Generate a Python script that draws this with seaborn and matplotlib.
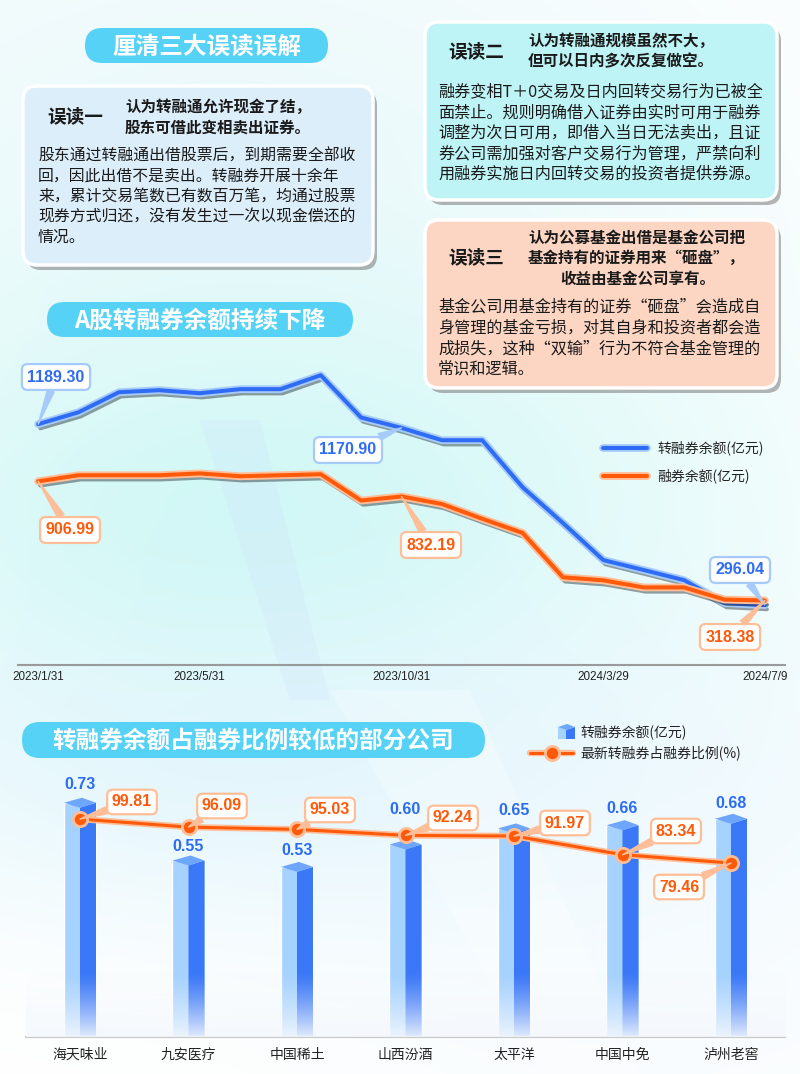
import numpy as np
import matplotlib
matplotlib.use('Agg')
import matplotlib.pyplot as plt
import matplotlib.patheffects as pe
from matplotlib.patches import FancyBboxPatch, Polygon
from matplotlib.lines import Line2D
import seaborn as sns

# ---- 数据 ----
dates = ['2023/1/31', '2023/2/28', '2023/3/31', '2023/4/28', '2023/5/31', '2023/6/30',
         '2023/7/31', '2023/8/31', '2023/9/28', '2023/10/31', '2023/11/30', '2023/12/29',
         '2024/1/31', '2024/2/29', '2024/3/29', '2024/4/30', '2024/5/31', '2024/6/28', '2024/7/9']
zhuan_rongquan = [1189.30, 1248, 1347, 1357, 1342, 1362, 1362, 1431, 1222, 1170.90,
                  1110, 1110, 878, 701, 518, 469, 419, 306, 296.04]
rongquan = [906.99, 937, 937, 937, 946, 932, 937, 942, 812, 832.19,
            795, 722, 652, 433, 418, 383, 383, 323, 318.38]
tick_idx = [0, 4, 9, 14, 18]

companies = ['海天味业', '九安医疗', '中国稀土', '山西汾酒', '太平洋', '中国中免', '泸州老窖']
amounts = [0.73, 0.55, 0.53, 0.60, 0.65, 0.66, 0.68]
ratios = [99.81, 96.09, 95.03, 92.24, 91.97, 83.34, 79.46]

W, H = 800, 1074
BLUE, BLUE_HALO = '#2f6cf5', '#a6cbfa'
ORANGE, ORANGE_HALO = '#ff5a0a', '#ffbe98'
PILL = '#56d2f6'
NUM = ['Liberation Sans', 'DejaVu Sans']

sns.set_theme(style='white')
plt.rcParams['font.family'] = ['Noto Sans CJK SC', 'DejaVu Sans']
plt.rcParams['axes.unicode_minus'] = False


def rect_px(l, t, r, b):
    return [l / W, 1 - b / H, (r - l) / W, (b - t) / H]


def fp(x, y):
    # 从左上角像素坐标转为 figure pixels
    return (x, H - y)


fig = plt.figure(figsize=(8, 10.74), dpi=100)

# ---- 背景 ----
ov = fig.add_axes([0, 0, 1, 1])
ov.set_xlim(0, W)
ov.set_ylim(H, 0)
ov.axis('off')
yy, xx = np.mgrid[0:H, 0:W]
bg = np.ones((H, W, 3))


def tint(color, cx, cy, sx, sy, s):
    w = s * np.exp(-(((xx - cx) / sx) ** 2 + ((yy - cy) / sy) ** 2) / 2)
    for k in range(3):
        bg[..., k] = bg[..., k] * (1 - w) + color[k] * w


tint((0.90, 0.97, 0.98), 220, 150, 380, 220, 0.7)
tint((0.80, 0.97, 0.96), 260, 520, 330, 170, 0.9)
tint((0.86, 0.95, 0.99), 300, 770, 330, 110, 0.6)
tint((0.93, 0.97, 1.0), 650, 900, 250, 200, 0.4)
ov.imshow(bg, extent=(0, W, H, 0), aspect='auto', zorder=0)
ov.add_patch(Polygon([(330, 690), (470, 690), (640, 1074), (540, 1074)], closed=True,
                     fc='white', ec='none', alpha=0.25, zorder=1))
ov.add_patch(Polygon([(200, 420), (260, 420), (330, 700), (290, 700)], closed=True,
                     fc='#cfe3fb', ec='none', alpha=0.25, zorder=1))


def pill(x, y, w, h, text, size=17):
    ov.add_patch(FancyBboxPatch((x, y), w, h, boxstyle=f'round,pad=0,rounding_size={h / 2}',
                                fc=PILL, ec='none', zorder=3))
    ov.text(x + w / 2, y + h / 2 + 1, text, ha='center', va='center', color='white',
            fontsize=size, fontweight='bold', zorder=4)


def card(x, y, w, h, fc):
    ov.add_patch(FancyBboxPatch((x + 4, y + 5), w, h, boxstyle='round,pad=0,rounding_size=14',
                                fc='#7a7a7a', ec='none', alpha=0.55, zorder=2))
    ov.add_patch(FancyBboxPatch((x, y), w, h, boxstyle='round,pad=0,rounding_size=14',
                                fc=fc, ec='white', lw=2.5, zorder=3))


def lines(x, ys, texts, size, bold=False):
    for y, t in zip(ys, texts):
        ov.text(x, y, t, ha='left', va='center', fontsize=size, color='#1a1a1a',
                fontweight='bold' if bold else 'normal', zorder=4)


pill(85, 28, 243, 35, '厘清三大误读误解')

card(23, 86, 350, 179, '#dceefa')
lines(47, [117], ['误读一'], 13.4, True)
lines(125, [107, 128], ['认为转融通允许现金了结，', '股东可借此变相卖出证券。'], 11.2, True)
lines(38, [156, 176, 197, 217, 237],
      ['股东通过转融通出借股票后，到期需要全部收',
       '回，因此出借不是卖出。转融券开展十余年',
       '来，累计交易笔数已有数百万笔，均通过股票',
       '现券方式归还，没有发生过一次以现金偿还的',
       '情况。'], 11.4)

card(425, 22, 352, 178, '#bff4f6')
lines(448, [52], ['误读二'], 13.4, True)
lines(528, [41, 61], ['认为转融通规模虽然不大，', '但可以日内多次反复做空。'], 11.2, True)
lines(438, [92, 113, 133, 154, 174],
      ['融券变相T＋0交易及日内回转交易行为已被全',
       '面禁止。规则明确借入证券由实时可用于融券',
       '调整为次日可用，即借入当日无法卖出，且证',
       '券公司需加强对客户交易行为管理，严禁向利',
       '用融券实施日内回转交易的投资者提供券源。'], 11.6)

card(425, 220, 352, 168, '#fcd5c3')
lines(448, [258], ['误读三'], 13.4, True)
lines(528, [238, 258], ['认为公募基金出借是基金公司把', '基金持有的证券用来“砸盘”，'], 11.2, True)
lines(560, [279], ['收益由基金公司享有。'], 11.2, True)
lines(438, [307, 328, 349, 369],
      ['基金公司用基金持有的证券“砸盘”会造成自',
       '身管理的基金亏损，对其自身和投资者都会造',
       '成损失，这种“双输”行为不符合基金管理的',
       '常识和逻辑。'], 11.6)

pill(47, 302, 306, 35, 'A股转融券余额持续下降')
pill(22, 722, 463, 36, '转融券余额占融券比例较低的部分公司')

# ---- 折线图 ----
ax = fig.add_axes(rect_px(18, 341, 785, 665))
ax.set_facecolor('none')
idx = np.arange(len(dates))
for vals, col, halo in [(zhuan_rongquan, BLUE, BLUE_HALO), (rongquan, ORANGE, ORANGE_HALO)]:
    sns.lineplot(x=idx, y=vals, ax=ax, color=col, lw=2.9, zorder=4,
                 path_effects=[pe.SimpleLineShadow(offset=(1.5, -3), shadow_color='#1e2a33', alpha=0.45),
                               pe.Stroke(linewidth=5.6, foreground=halo), pe.Normal()])
ax.set_xlim(-0.5, 18.5)
ax.set_ylim(0, 1600)
ax.set_yticks([])
ax.set_xticks(tick_idx)
ax.set_xticklabels([dates[i] for i in tick_idx], fontsize=8.4, color='#222222',
                   family=['Liberation Sans Narrow', 'Liberation Sans'])
ax.tick_params(axis='x', length=0, pad=4)
for s in ['top', 'right', 'left']:
    ax.spines[s].set_visible(False)
ax.spines['bottom'].set_color('#9a9a9a')
ax.spines['bottom'].set_linewidth(1.5)

line_labels = [
    (zhuan_rongquan, 0, (56, 377), BLUE, BLUE_HALO),
    (zhuan_rongquan, 9, (348, 450), BLUE, BLUE_HALO),
    (zhuan_rongquan, 18, (740, 570), BLUE, BLUE_HALO),
    (rongquan, 0, (70, 530), ORANGE, ORANGE_HALO),
    (rongquan, 9, (431, 545), ORANGE, ORANGE_HALO),
    (rongquan, 18, (730, 637), ORANGE, ORANGE_HALO),
]
for vals, i, pos, col, halo in line_labels:
    ax.annotate(f'{vals[i]:.2f}', xy=(i, vals[i]), xytext=fp(*pos), textcoords='figure pixels',
                ha='center', va='center', fontsize=11.5, fontweight='bold', color=col, family=NUM,
                bbox=dict(boxstyle='round,pad=0.34,rounding_size=0.35', fc='white', ec=halo, lw=1.6),
                arrowprops=dict(arrowstyle='wedge,tail_width=0.45', fc=halo, ec=halo,
                                shrinkA=0, shrinkB=0),
                zorder=6, annotation_clip=False)

handles = [Line2D([], [], color=BLUE, lw=2.9,
                  path_effects=[pe.Stroke(linewidth=5.6, foreground=BLUE_HALO), pe.Normal()]),
           Line2D([], [], color=ORANGE, lw=2.9,
                  path_effects=[pe.Stroke(linewidth=5.6, foreground=ORANGE_HALO), pe.Normal()])]
ax.legend(handles, ['转融券余额(亿元)', '融券余额(亿元)'], loc='center left',
          bbox_to_anchor=((603 - 18) / 767, (665 - 462) / 324), frameon=False,
          fontsize=10, handlelength=3.2, handletextpad=0.7, labelspacing=0.95,
          borderpad=0, borderaxespad=0, labelcolor='#222222')

# ---- 柱状图 ----
ax2 = fig.add_axes(rect_px(25.75, 770, 785.25, 1037))
ax2.set_facecolor('none')
bar_w = 0.295
sns.barplot(x=companies, y=amounts, color='#a6d2ff', saturation=1, width=bar_w, ax=ax2, zorder=2)
ax2.set_xlim(-0.5, 6.5)
ax2.set_ylim(0, 0.832)
dy = 5 / 321
dx = 2 / 108.5
hw = bar_w / 2
label_off = [13, 10, 12, 25, 13, 12, 11]
for p, off in zip(ax2.patches, label_off):
    xc = p.get_x() + p.get_width() / 2
    v = p.get_height()
    ax2.add_patch(Polygon([(xc, v - dy), (xc + hw, v), (xc + hw, 0), (xc, 0)], closed=True,
                          fc='#3b78f7', ec='none', zorder=2.5))
    ax2.add_patch(Polygon([(xc - hw, v), (xc + dx, v + dy), (xc + hw, v), (xc, v - dy)], closed=True,
                          fc='#6ea6fb', ec='none', zorder=2.6))
    ax2.annotate(f'{v:.2f}', xy=(xc, v), xytext=(0, off), textcoords='offset points',
                 ha='center', va='center', fontsize=11.5, fontweight='bold', color='#2b6cf2',
                 family=NUM, zorder=5)

fade = np.ones((64, 1, 4))
fade[..., 0], fade[..., 1], fade[..., 2] = 0.96, 0.975, 0.995
fade[:, 0, 3] = np.linspace(0.92, 0.0, 64) ** 1.3
ax2.imshow(fade, extent=(-0.5, 6.5, 0, 0.2), aspect='auto', origin='lower', zorder=3)
ax2.set_xlim(-0.5, 6.5)
ax2.set_ylim(0, 0.832)
ax2.set_ylabel('')
ax2.set_xlabel('')
ax2.set_yticks([])
ax2.tick_params(axis='x', length=0, pad=8, labelsize=10, labelcolor='#222222')
for s in ['top', 'right', 'left']:
    ax2.spines[s].set_visible(False)
ax2.spines['bottom'].set_color('#c8c8c8')
ax2.spines['bottom'].set_linewidth(1.5)

ax3 = ax2.twinx()
ax3.set_facecolor('none')
xs = np.arange(len(companies))
sns.lineplot(x=xs, y=ratios, ax=ax3, color=ORANGE, lw=2.2, zorder=4,
             path_effects=[pe.Stroke(linewidth=4.6, foreground=ORANGE_HALO), pe.Normal()])
ax3.scatter(xs, ratios, s=105, c=ORANGE, edgecolors=ORANGE_HALO, linewidths=2, zorder=5)
ax3.set_xlim(-0.5, 6.5)
ax3.set_ylim(-1, 122.5)
ax3.set_yticks([])
ax3.set_ylabel('')
for s in ax3.spines.values():
    s.set_visible(False)

ratio_pos = [(132, 802), (222, 806), (330, 810), (453, 818), (565, 823), (676, 831), (679, 887)]
for i, (r, pos) in enumerate(zip(ratios, ratio_pos)):
    ax3.annotate(f'{r:.2f}', xy=(i, r), xytext=fp(*pos), textcoords='figure pixels',
                 ha='center', va='center', fontsize=11.5, fontweight='bold', color=ORANGE, family=NUM,
                 bbox=dict(boxstyle='round,pad=0.3,rounding_size=0.35', fc='white', ec=ORANGE_HALO, lw=1.6),
                 arrowprops=dict(arrowstyle='wedge,tail_width=0.45', fc=ORANGE_HALO, ec=ORANGE_HALO,
                                 shrinkA=0, shrinkB=0),
                 zorder=6, annotation_clip=False)

# 柱状图图例
lg = fig.add_axes([0, 0, 1, 1])
lg.set_xlim(0, W)
lg.set_ylim(H, 0)
lg.axis('off')
lg.add_patch(Polygon([(558, 727), (566, 730), (566, 739), (558, 739)], fc='#a6d2ff', ec='none'))
lg.add_patch(Polygon([(566, 730), (575, 727), (575, 739), (566, 739)], fc='#3b78f7', ec='none'))
lg.add_patch(Polygon([(558, 727), (567, 724), (575, 727), (566, 730)], fc='#6ea6fb', ec='none'))
lg.text(580, 732, '转融券余额(亿元)', ha='left', va='center', fontsize=10, color='#222222')
lg.plot([530, 573], [753, 753], color=ORANGE, lw=2.2,
        path_effects=[pe.Stroke(linewidth=4.6, foreground=ORANGE_HALO), pe.Normal()])
lg.scatter([552], [753], s=105, c=ORANGE, edgecolors=ORANGE_HALO, linewidths=2, zorder=5)
lg.text(580, 753, '最新转融券占融券比例(%)', ha='left', va='center', fontsize=10, color='#222222')

fig.savefig('out.png', dpi=100)
